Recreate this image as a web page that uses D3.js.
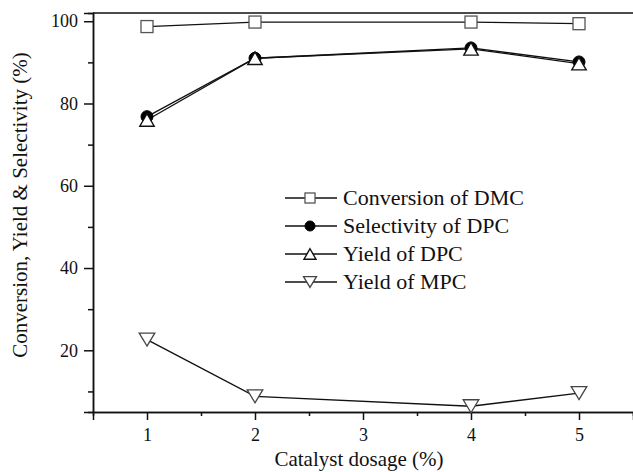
<!DOCTYPE html>
<html>
<head>
<meta charset="utf-8">
<script src="https://cdn.jsdelivr.net/npm/d3@7"></script>
<style>
  html, body { margin: 0; padding: 0; background: #fff; }
  svg { display: block; }
  text { font-family: "Liberation Serif", "Times New Roman", serif; fill: #111; }
</style>
</head>
<body>
<svg id="chart" width="633" height="472"></svg>
<script>
// Catalyst dosage (%) on the x axis
const dosage = [1, 2, 4, 5];

// Series values (%)
const conversionDMC  = [98.7, 99.8, 99.8, 99.4];
const selectivityDPC = [76.8, 91.0, 93.5, 90.1];
const yieldDPC       = [76.0, 91.0, 93.3, 89.7];
const yieldMPC       = [22.6, 8.8, 6.4, 9.6];

const seriesNames = ["Conversion of DMC", "Selectivity of DPC", "Yield of DPC", "Yield of MPC"];
const seriesValues = [conversionDMC, selectivityDPC, yieldDPC, yieldMPC];
const seriesSymbols = ["square", "circle", "triUp", "triDown"];

// Tick labels
const xTicks = [1, 2, 3, 4, 5];
const xMinorTicks = [1.5, 2.5, 3.5, 4.5];
const yTicks = [20, 40, 60, 80, 100];
const yMinorTicks = [10, 30, 50, 70, 90];

const xTitle = "Catalyst dosage (%)";
const yTitle = "Conversion, Yield & Selectivity (%)";

const svg = d3.select("#chart");
const plot = { left: 93, right: 633, top: 13, bottom: 412 };

const x = d3.scaleLinear().domain([0.5, 5.5]).range([plot.left, plot.right]);
const y = d3.scaleLinear().domain([5, 102]).range([plot.bottom, plot.top]);

// Top edge of the frame (the right edge falls on the page border)
svg.append("line")
  .attr("x1", plot.left).attr("x2", plot.right)
  .attr("y1", plot.top).attr("y2", plot.top)
  .attr("stroke", "#111").attr("stroke-width", 1.5);

// Axes
const xAxis = svg.append("g").attr("transform", `translate(0,${plot.bottom})`)
  .call(d3.axisBottom(x).tickValues(xTicks).tickSize(8).tickPadding(6).tickFormat(d3.format("d")));
const xMinor = svg.append("g").attr("transform", `translate(0,${plot.bottom})`)
  .call(d3.axisBottom(x).tickValues(xMinorTicks).tickSize(4).tickFormat(""));
const yAxis = svg.append("g").attr("transform", `translate(${plot.left},0)`)
  .call(d3.axisLeft(y).tickValues(yTicks).tickSize(9).tickPadding(6).tickFormat(d3.format("d")));
const yMinor = svg.append("g").attr("transform", `translate(${plot.left},0)`)
  .call(d3.axisLeft(y).tickValues(yMinorTicks).tickSize(5).tickFormat(""));

[xAxis, xMinor, yAxis, yMinor].forEach(g => {
  g.select(".domain").attr("stroke", "#111").attr("stroke-width", 1.5);
  g.selectAll(".tick line").attr("stroke", "#111").attr("stroke-width", 1.5);
  g.selectAll(".tick text").style("font-family", '"Liberation Serif", "Times New Roman", serif')
    .style("font-size", "18px").attr("fill", "#111");
});
xAxis.selectAll(".tick text").attr("dy", "0.85em");

// Axis titles
svg.append("text")
  .attr("x", 359).attr("y", 466)
  .attr("text-anchor", "middle")
  .style("font-size", "21px")
  .text(xTitle);
svg.append("text")
  .attr("transform", `translate(27,205) rotate(-90)`)
  .attr("text-anchor", "middle")
  .style("font-size", "21px")
  .text(yTitle);

// Marker drawing
function drawMarker(g, type, cx, cy, s) {
  if (type === "square") {
    g.append("rect")
      .attr("x", cx - s / 2).attr("y", cy - s / 2)
      .attr("width", s).attr("height", s)
      .attr("fill", "#fff").attr("stroke", "#555").attr("stroke-width", 1.3);
  } else if (type === "circle") {
    g.append("circle")
      .attr("cx", cx).attr("cy", cy).attr("r", s / 2)
      .attr("fill", "#000").attr("stroke", "#000");
  } else if (type === "triUp") {
    const w = s * 1.2, h = s * 1.05;
    g.append("path")
      .attr("d", `M${cx},${cy - h / 2}L${cx + w / 2},${cy + h / 2}L${cx - w / 2},${cy + h / 2}Z`)
      .attr("fill", "#fff").attr("stroke", "#111").attr("stroke-width", 1.4);
  } else if (type === "triDown") {
    const w = s * 1.3, h = s * 1.08;
    g.append("path")
      .attr("d", `M${cx},${cy + h / 2}L${cx + w / 2},${cy - h / 2}L${cx - w / 2},${cy - h / 2}Z`)
      .attr("fill", "#fff").attr("stroke", "#444").attr("stroke-width", 1.3);
  }
}

// Lines
const line = d3.line().x((d, i) => x(dosage[i])).y(d => y(d));
seriesValues.forEach(vals => {
  svg.append("path")
    .datum(vals)
    .attr("d", line)
    .attr("fill", "none")
    .attr("stroke", "#111")
    .attr("stroke-width", 1.3);
});

// Markers
const marks = svg.append("g");
seriesValues.forEach((vals, si) => {
  vals.forEach((v, i) => drawMarker(marks, seriesSymbols[si], x(dosage[i]), y(v), 12));
});

// Legend
const legendY = [198, 226, 254, 282];
const legend = svg.append("g");
seriesNames.forEach((name, i) => {
  const ly = legendY[i];
  legend.append("line")
    .attr("x1", 285).attr("x2", 337).attr("y1", ly).attr("y2", ly)
    .attr("stroke", "#111").attr("stroke-width", 1.3);
  drawMarker(legend, seriesSymbols[i], 310, ly, 10);
  legend.append("text")
    .attr("x", 343).attr("y", ly)
    .attr("dy", "0.33em")
    .style("font-size", "22px")
    .text(name);
});
</script>
</body>
</html>
